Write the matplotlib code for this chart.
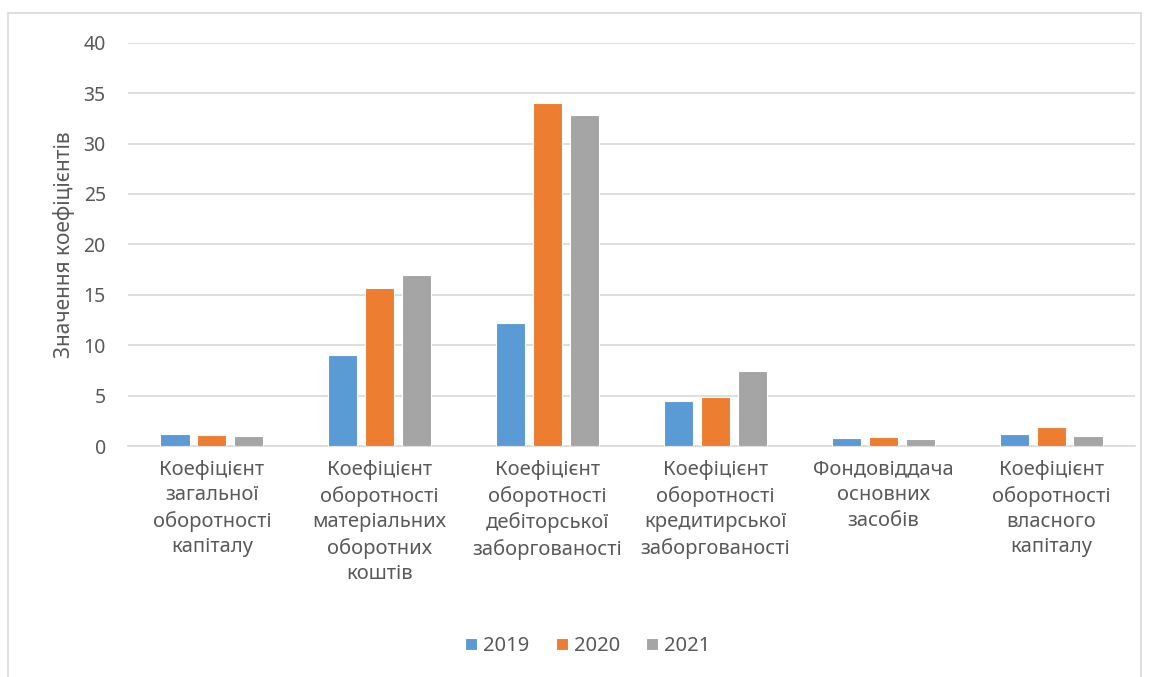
import matplotlib
matplotlib.use("Agg")
import matplotlib.pyplot as plt
import numpy as np
from matplotlib.patches import Rectangle

categories = [
    "Коефіцієнт\nзагальної\nоборотності\nкапіталу",
    "Коефіцієнт\nоборотності\nматеріальних\nоборотних\nкоштів",
    "Коефіцієнт\nоборотності\nдебіторської\nзаборгованості",
    "Коефіцієнт\nоборотності\nкредитирської\nзаборгованості",
    "Фондовіддача\nосновних\nзасобів",
    "Коефіцієнт\nоборотності\nвласного\nкапіталу",
]
years = ["2019", "2020", "2021"]
v2019 = [1.2, 9.0, 12.2, 4.5, 0.8, 1.2]
v2020 = [1.1, 15.7, 34.0, 4.9, 0.9, 1.9]
v2021 = [1.0, 17.0, 32.8, 7.4, 0.7, 1.0]
yticks = [0, 5, 10, 15, 20, 25, 30, 35, 40]
ylabel = "Значення коефіцієнтів"

colors = ["#5B9BD5", "#ED7D31", "#A5A5A5"]
txt = "#595959"
plt.rcParams['font.family'] = ['Noto Sans', 'DejaVu Sans']

fig = plt.figure(figsize=(11.49, 6.77), dpi=100)
fig.patches.append(Rectangle((8/1149, -0.01), 1133/1149, 1 - 13/677 + 0.01,
                             transform=fig.transFigure, fill=False,
                             edgecolor="#d9d9d9", lw=1.2))
ax = fig.add_axes([128/1149, 1 - 446/677, (1135 - 128)/1149, (446 - 42.7)/677])

x = np.arange(len(categories))
w = 0.173
step = 0.22
for i, (vals, yr) in enumerate(zip([v2019, v2020, v2021], years)):
    ax.bar(x + (i - 1) * step, vals, width=w, color=colors[i], label=yr,
           edgecolor="white", linewidth=0.8, zorder=3)

ax.set_xlim(-0.5, len(categories) - 0.5)
ax.set_ylim(0, 40)
ax.set_yticks(yticks)
ax.yaxis.grid(True, color="#d9d9d9", lw=1.2, zorder=0)
ax.set_xticks(x)
ax.set_xticklabels(categories, fontsize=14.5, color=txt, linespacing=1.36)
ax.tick_params(axis='y', labelsize=14, labelcolor=txt, length=0, pad=16)
ax.tick_params(axis='x', length=0, pad=10)
for s in ["top", "right", "left"]:
    ax.spines[s].set_visible(False)
ax.spines["bottom"].set_color("#d9d9d9")
ax.spines["bottom"].set_linewidth(1.2)
ax.set_ylabel(ylabel, fontsize=15, color=txt, labelpad=6)

leg = fig.legend(loc="center", bbox_to_anchor=(588/1149, 1 - 646/677), ncol=3,
                 frameon=False, fontsize=14.5, handlelength=0.6, handleheight=0.6,
                 columnspacing=1.3, handletextpad=0.3)
for t in leg.get_texts():
    t.set_color(txt)

fig.savefig("out.png", dpi=100)
